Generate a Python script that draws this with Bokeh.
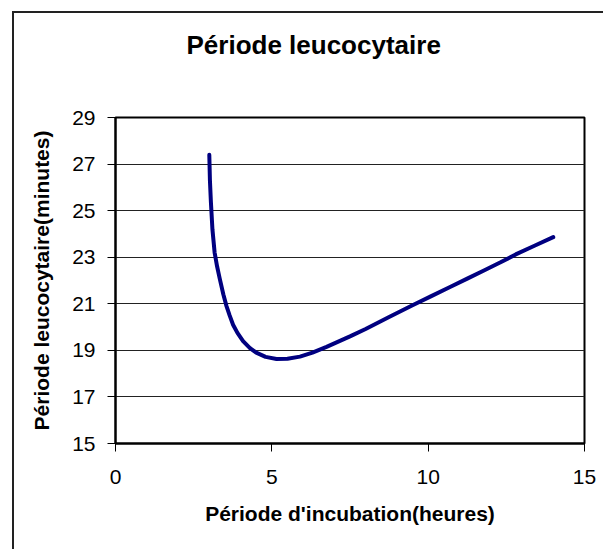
from bokeh.plotting import figure
from bokeh.models import FixedTicker, Range1d, Title
from bokeh.embed import file_html
from bokeh.resources import INLINE

# Data
incubation_h = [3.0, 3.02, 3.05, 3.1, 3.17, 3.25, 3.33, 3.45, 3.55, 3.65,
                3.76, 3.9, 4.08, 4.3, 4.5, 4.8, 5.15, 5.5, 5.9, 6.3,
                6.75, 7.5, 8.0, 8.75, 9.5, 10.1, 10.7, 11.25, 11.8, 12.3,
                12.8, 13.4, 14.0]
periode_min = [27.4, 26.3, 25.4, 24.2, 23.2, 22.6, 22.1, 21.4, 20.9, 20.5,
               20.1, 19.75, 19.4, 19.1, 18.9, 18.72, 18.63, 18.64, 18.73, 18.9,
               19.15, 19.6, 19.92, 20.43, 20.94, 21.33, 21.72, 22.08, 22.44, 22.77,
               23.12, 23.49, 23.86]
x_ticks = [0, 5, 10, 15]
y_ticks = [15, 17, 19, 21, 23, 25, 27, 29]

title_text = "Période leucocytaire"
x_label = "Période d'incubation(heures)"
y_label = "Période leucocytaire(minutes)"

FONT = "Liberation Sans"

p = figure(width=603, height=549, output_backend="svg", toolbar_location=None,
           x_range=Range1d(0, 15), y_range=Range1d(15, 29),
           min_border_left=115, min_border_right=19,
           min_border_top=115, min_border_bottom=106,
           title_location=None)

# spacer between the plot area and the title (added first -> nearest the frame)
spacer = Title(text=" ", text_font=FONT, text_font_size="10px", standoff=17)
p.add_layout(spacer, "above")

main_title = Title(text=title_text, text_font=FONT, text_font_size="26px",
                   text_font_style="bold", text_color="black",
                   align="left", offset=71, standoff=55)
p.add_layout(main_title, "above")

p.line(incubation_h, periode_min, line_color="#000080", line_width=4,
       line_cap="round", line_join="round")

p.xgrid.visible = False
p.ygrid.grid_line_color = "#222222"
p.ygrid.grid_line_width = 1
p.yaxis.ticker = FixedTicker(ticks=y_ticks)
p.xaxis.ticker = FixedTicker(ticks=x_ticks)

for ax in (p.xaxis[0], p.yaxis[0]):
    ax.axis_line_color = "black"
    ax.axis_line_width = 2
    ax.major_tick_in = 0
    ax.major_tick_out = 8
    ax.major_tick_line_color = "black"
    ax.major_tick_line_width = 1
    ax.minor_tick_line_color = None
    ax.major_label_text_font = FONT
    ax.major_label_text_font_size = "21px"
    ax.major_label_text_color = "black"
    ax.axis_label_text_font = FONT
    ax.axis_label_text_font_size = "21px"
    ax.axis_label_text_font_style = "bold"
    ax.axis_label_text_color = "black"

p.xaxis.axis_label = x_label
p.yaxis.axis_label = y_label
p.xaxis.major_label_standoff = 18
p.yaxis.major_label_standoff = 12
p.xaxis.axis_label_standoff = 15
p.yaxis.axis_label_standoff = 16

p.outline_line_color = "black"
p.outline_line_width = 2
p.background_fill_color = "white"
p.border_fill_color = None

# Outer chart frame (top and left edges visible, it runs past the picture)
p.styles = {
    "background": "linear-gradient(#222222, #222222) 12px 11px / 2px 100% no-repeat, "
                  "linear-gradient(#222222, #222222) 12px 11px / 100% 2px no-repeat, "
                  "white"
}

open("out.html", "w").write(file_html(p, INLINE))
